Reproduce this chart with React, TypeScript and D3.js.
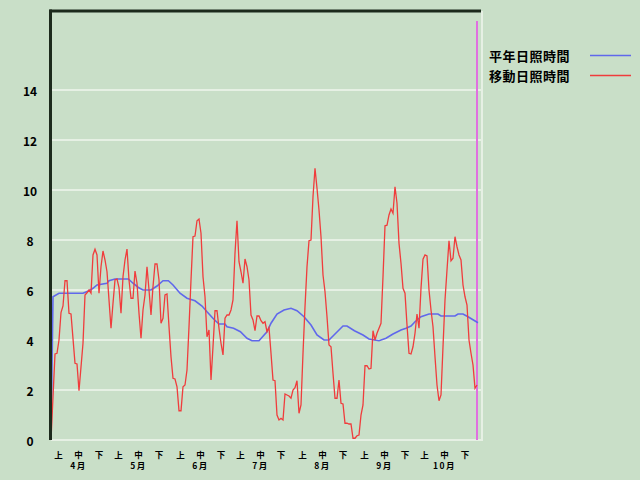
import React from "react";
import * as d3 from "d3";

// Day index 0 = April 1, last = October 31
const monthLabels = ["4月", "5月", "6月", "7月", "8月", "9月", "10月"];
const monthStartDays = [0, 30, 61, 91, 122, 153, 183];
const dekadLabels = ["上", "中", "下"];
const dekadOffsets = [3.8, 13.8, 24];
const yTicks = [0, 2, 4, 6, 8, 10, 12, 14];
const legendNames = ["平年日照時間", "移動日照時間"];

// 平年日照時間 (normal sunshine hours) [day, value]
const normalSeries: [number, number][] = [
  [0, 0], [1, 5.73], [4, 5.87], [16, 5.87], [19, 5.97], [21, 6.07], [23, 6.2], [28, 6.27],
  [29, 6.37], [32, 6.44], [38.7, 6.44], [41, 6.27], [43.7, 6.1], [46, 6.0], [50, 6.0],
  [53, 6.16], [56, 6.37], [58.7, 6.37], [61, 6.2], [64.5, 5.87], [68, 5.67], [72, 5.57],
  [75.5, 5.36], [78, 5.13], [81.3, 4.84], [84, 4.64], [87, 4.64], [88, 4.53], [91.3, 4.47],
  [94.7, 4.33], [98, 4.07], [100.5, 3.97], [104, 3.97], [108, 4.33], [110, 4.67], [113, 5.04],
  [116.5, 5.2], [120, 5.27], [123, 5.17], [126.5, 4.93], [130, 4.6], [133, 4.2], [136.5, 4.0],
  [139, 4.0], [141.5, 4.2], [144, 4.4], [146, 4.56], [148, 4.56], [151.7, 4.37], [156, 4.2],
  [159, 4.04], [164, 3.97], [167.5, 4.07], [171, 4.24], [175, 4.4], [177.5, 4.47], [180, 4.56],
  [182, 4.73], [185, 4.93], [189, 5.04], [193.5, 5.04], [195, 4.96], [202, 4.96], [203.5, 5.04],
  [206, 5.04], [208.5, 4.93], [213.5, 4.69],
];

// 移動日照時間 (moving sunshine hours) [day, value]
const movingSeries: [number, number][] = [
  [0, 0], [2, 3.44], [3, 3.47], [4, 4.0], [5, 5.1], [6, 5.36], [7, 6.37], [8, 6.37], [9, 5.07],
  [10, 5.04], [12, 3.07], [13, 3.04], [14, 1.97], [16, 3.87], [17, 5.8], [18, 5.89], [19, 6.0],
  [20, 5.87], [21, 7.4], [22, 7.63], [23, 7.4], [24, 5.87], [25, 6.93], [26, 7.56], [27, 7.2],
  [28, 6.73], [29, 5.6], [30, 4.47], [31, 5.47], [32, 6.4], [33, 6.44], [34, 6.1], [35, 5.07],
  [36, 6.53], [37, 7.2], [38, 7.64], [39, 6.4], [40, 5.67], [41, 5.67], [42, 6.76], [43, 6.27],
  [44, 5.07], [45, 4.07], [46, 5.2], [47, 5.8], [48, 6.93], [49, 6.0], [50, 5.0], [51, 6.13],
  [52, 7.04], [53, 7.04], [54, 6.4], [55, 4.67], [56, 4.87], [57, 5.8], [58, 5.84], [59, 4.53],
  [60, 3.33], [61, 2.47], [62, 2.44], [63, 2.13], [64, 1.17], [65, 1.17], [66, 2.13], [67, 2.2],
  [68, 2.8], [69, 4.53], [70, 6.4], [71, 8.13], [72, 8.16], [73, 8.77], [74, 8.84], [75, 8.27],
  [76, 6.53], [77, 5.73], [78, 4.13], [79, 4.4], [80, 2.4], [81, 3.73], [82, 5.17], [83, 5.17],
  [84, 4.47], [85, 3.87], [86, 3.4], [87, 4.87], [88, 5.0], [89, 5.0], [90, 5.2], [91, 5.6],
  [92, 7.47], [93, 8.77], [94, 7.13], [95, 6.73], [96, 6.27], [97, 7.24], [98, 6.93], [99, 6.4],
  [100, 5.0], [101, 4.8], [102, 4.37], [103, 4.96], [104, 4.96], [105, 4.77], [106, 4.67],
  [107, 4.73], [108, 4.33], [109, 4.5], [110, 3.47], [111, 2.4], [112, 2.37], [113, 1.0],
  [114, 0.8], [115, 0.87], [116, 0.8], [117, 1.84], [118, 1.8], [119, 1.76], [120, 1.67],
  [121, 2.0], [122, 2.09], [123, 2.37], [124, 1.07], [125, 1.4], [126, 3.47], [127, 5.33],
  [128, 6.93], [129, 7.97], [130, 8.0], [131, 9.73], [132, 10.87], [133, 10.07], [134, 9.2],
  [135, 8.13], [136, 6.6], [137, 5.93], [138, 4.93], [139, 3.8], [140, 3.73], [141, 2.67],
  [142, 1.67], [143, 1.67], [144, 2.4], [145, 1.47], [146, 1.44], [147, 0.67], [148, 0.67],
  [149, 0.64], [150, 0.64], [151, 0.07], [152, 0.07], [153, 0.17], [154, 0.2], [155, 1.0],
  [156, 1.4], [157, 2.97], [158, 2.97], [159, 2.84], [160, 2.87], [161, 4.37], [162, 4.0],
  [163, 4.27], [164, 4.47], [165, 4.67], [166, 6.53], [167, 8.57], [168, 8.59], [169, 9.0],
  [170, 9.24], [171, 9.07], [172, 10.13], [173, 9.47], [174, 7.87], [175, 7.07], [176, 6.07],
  [177, 5.87], [178, 4.6], [179, 3.47], [180, 3.44], [181, 3.73], [182, 4.27], [183, 5.04],
  [184, 4.47], [185, 6.07], [186, 7.23], [187, 7.4], [188, 7.36], [189, 6.0], [190, 5.2],
  [191, 4.53], [192, 3.33], [193, 2.2], [194, 1.57], [195, 1.8], [196, 3.73], [197, 5.6],
  [198, 6.8], [199, 7.97], [200, 7.17], [201, 7.27], [202, 8.13], [203, 7.73], [204, 7.4],
  [205, 7.2], [206, 6.2], [207, 5.73], [208, 5.4], [209, 4.0], [210, 3.47], [211, 3.0],
  [212, 2.07], [213, 2.2],
];

const markerDay = 213;

export default function App() {
  const W = 640, H = 480;
  const left = 51, right = 483, top = 11, bottom = 440;
  const x = d3.scaleLinear().domain([0, 214]).range([51, 479]);
  const y = d3.scaleLinear().domain([0, 14]).range([440, 90]);
  const line = d3.line<[number, number]>().x(d => x(d[0])).y(d => y(d[1]));
  const font = "'Noto Sans CJK JP', 'Noto Sans', sans-serif";
  const bg = "#c9dfc8";
  const grid = "#e6f0e4";

  return (
    <div style={{ position: "fixed", left: 0, top: 0, width: W, height: H, background: bg }}>
      <svg width={W} height={H} style={{ display: "block" }}>
        <rect x={0} y={0} width={W} height={H} fill={bg} />
        {/* gridlines */}
        {yTicks.map(t => (
          <line key={t} x1={left} x2={right} y1={y(t)} y2={y(t)} stroke={grid} strokeWidth={2} />
        ))}
        {/* right light border */}
        <line x1={482} x2={482} y1={top} y2={bottom + 1} stroke={grid} strokeWidth={2} />
        {/* magenta marker */}
        <line x1={x(markerDay)} x2={x(markerDay)} y1={21} y2={bottom} stroke="#e070e0" strokeWidth={2} />
        {/* series */}
        <path d={line(normalSeries) || ""} fill="none" stroke="#6068ec" strokeWidth={1.6} />
        <path d={line(movingSeries) || ""} fill="none" stroke="#f03c3c" strokeWidth={1.3} />
        {/* frame: top and left dark */}
        <line x1={49.5} x2={481} y1={top} y2={top} stroke="#1c2a1c" strokeWidth={3} />
        <line x1={50.5} x2={50.5} y1={top - 1.5} y2={bottom} stroke="#1c2a1c" strokeWidth={3} />
        {/* y labels */}
        {yTicks.map(t => (
          <text key={t} x={30} y={y(t)} textAnchor="middle" dominantBaseline="central"
            fontFamily={font} fontWeight="bold" fontSize={12} fill="#000">{t}</text>
        ))}
        {/* x labels */}
        {monthStartDays.map((ms, i) => (
          <g key={i}>
            {dekadLabels.map((lab, j) => (
              <text key={j} x={x(ms + dekadOffsets[j])} y={453.5} textAnchor="middle" dominantBaseline="central"
                fontFamily={font} fontWeight="bold" fontSize={8.5} fill="#000">{lab}</text>
            ))}
            <text x={x(ms + dekadOffsets[1])} y={464.5} textAnchor="middle" dominantBaseline="central"
              fontFamily={font} fontWeight="bold" fontSize={8.5} letterSpacing={1.5} fill="#000">{monthLabels[i]}</text>
          </g>
        ))}
        {/* legend */}
        {legendNames.map((n, i) => (
          <g key={n}>
            <text x={489} y={55 + i * 20} dominantBaseline="central" fontFamily={font} fontWeight="bold"
              fontSize={13} letterSpacing={0.5} fill="#000">{n}</text>
            <line x1={590} x2={631} y1={55.5 + i * 20} y2={55.5 + i * 20}
              stroke={i === 0 ? "#6068ec" : "#f03c3c"} strokeWidth={1.5} />
          </g>
        ))}
      </svg>
    </div>
  );
}
